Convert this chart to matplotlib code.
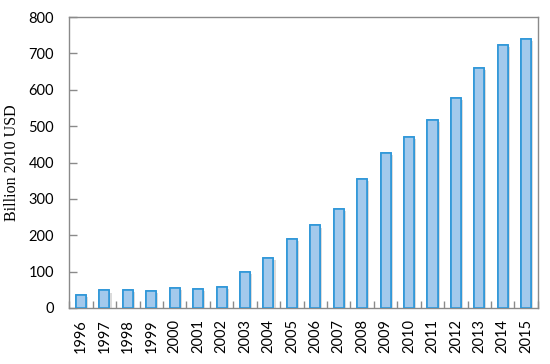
import matplotlib
matplotlib.use('Agg')
import matplotlib.pyplot as plt
import matplotlib.patheffects as pe
import numpy as np

# data
years = ['1996', '1997', '1998', '1999', '2000', '2001', '2002', '2003', '2004', '2005',
         '2006', '2007', '2008', '2009', '2010', '2011', '2012', '2013', '2014', '2015']
values = [35, 48, 49, 47, 56, 53, 58, 98, 137, 189,
          227, 272, 354, 426, 470, 517, 577, 661, 724, 741]
yticks = [0, 100, 200, 300, 400, 500, 600, 700, 800]

fig = plt.figure(figsize=(5.5, 3.64), dpi=100)
ax = fig.add_axes([0.126, 0.154, 0.852, 0.799])

x = np.arange(len(years))
bars = ax.bar(x, values, width=0.43, color='#a3c9ec', edgecolor='#2f97d8',
              linewidth=1.2, zorder=3)
for b in bars:
    b.set_path_effects([pe.withSimplePatchShadow(offset=(1.5, -1.5), shadow_rgbFace='#999999', alpha=0.35),
                        pe.Normal()])

ax.set_xlim(-0.5, len(years) - 0.5)
ax.set_ylim(0, 800)

# spines
for s in ax.spines.values():
    s.set_color('#8a8a8a')
    s.set_linewidth(1.0)

# y axis
ax.set_yticks(yticks)
ax.set_yticklabels([str(v) for v in yticks], fontsize=10.5, family='Lato')
ax.tick_params(axis='y', direction='in', length=6, width=1, color='#8a8a8a', pad=11)

# x axis: labels at centers, tick marks between categories
ax.set_xticks(x)
ax.set_xticklabels(years, rotation=90, fontsize=10.5, family='Lato')
ax.tick_params(axis='x', which='major', length=0, pad=8)
ax.set_xticks(np.arange(len(years) + 1) - 0.5, minor=True)
ax.tick_params(axis='x', which='minor', direction='in', length=5, width=1, color='#8a8a8a')

ax.set_ylabel('Billion 2010 USD', fontsize=11.5, family='Liberation Serif', labelpad=6)

fig.savefig('out.png', dpi=100)
